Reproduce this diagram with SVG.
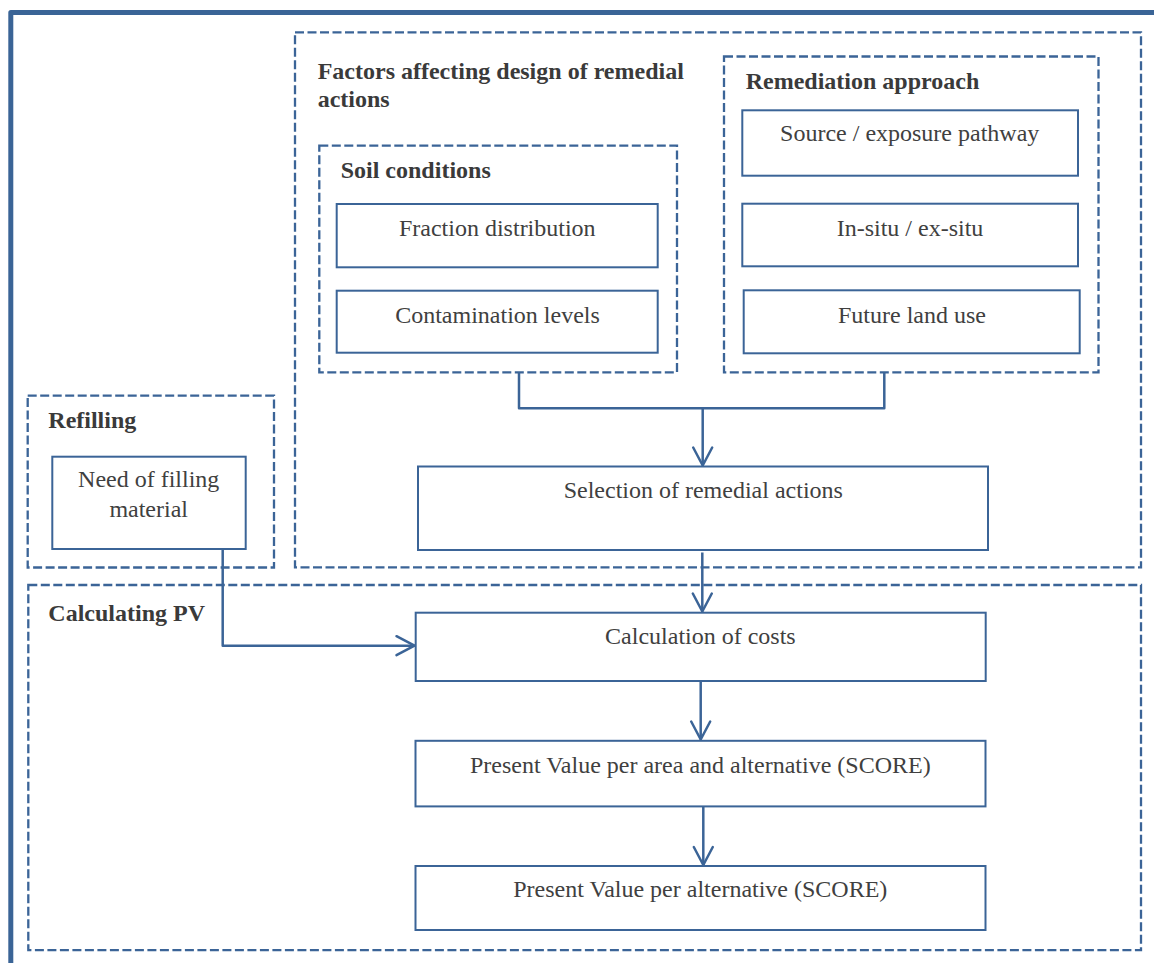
<svg xmlns="http://www.w3.org/2000/svg" width="1154" height="963" viewBox="0 0 1154 963">
  <style>
    .frame { fill: none; stroke: #3a6496; stroke-width: 5; stroke-linejoin: round; }
    .group { fill: none; stroke: #3b6497; stroke-width: 2.3; stroke-dasharray: 9 3.5; }
    .box { fill: #ffffff; stroke: #3b6497; stroke-width: 2; }
    .conn { fill: none; stroke: #3b6497; stroke-width: 2.5; stroke-linejoin: round; }
    .label { font-family: "Liberation Serif", "Times New Roman", serif; font-size: 24px; fill: #404040; text-anchor: middle; }
    .head { font-family: "Liberation Serif", "Times New Roman", serif; font-size: 24px; font-weight: bold; fill: #3a3a3a; }
  </style>
  <defs>
    <marker id="chevron" markerUnits="userSpaceOnUse" viewBox="-21 -12 24 24" markerWidth="24" markerHeight="24" refX="0" refY="0" orient="auto">
      <path d="M-18,-9.5 L0,0 L-18,9.5" fill="none" stroke="#3b6497" stroke-width="2.5" stroke-linejoin="round" stroke-linecap="round"/>
    </marker>
  </defs>

  <rect width="1154" height="963" fill="#ffffff"/>

  <!-- outer frame (top and left edges) -->
  <path class="frame" d="M10.8,963 V12.5 H1160"/>

  <!-- grouping frames -->
  <g id="factors">
    <rect class="group" x="295" y="32.3" width="846" height="535"/>
    <text class="head" x="317.7" y="79.3">Factors affecting design of remedial</text>
    <text class="head" x="317.7" y="106.7">actions</text>
  </g>
  <g id="soil-conditions">
    <rect class="group" x="319.3" y="145.7" width="357.7" height="226.6"/>
    <text class="head" x="340.7" y="178">Soil conditions</text>
  </g>
  <g id="remediation-approach">
    <rect class="group" x="724" y="56.5" width="374.5" height="315.8"/>
    <text class="head" x="745.7" y="89.3">Remediation approach</text>
  </g>
  <g id="refilling">
    <rect class="group" x="27.7" y="395.7" width="246.3" height="171.8"/>
    <text class="head" x="48.3" y="428.3">Refilling</text>
  </g>
  <g id="calculating-pv">
    <rect class="group" x="28.3" y="585" width="1112.7" height="365.2"/>
    <text class="head" x="48.3" y="621">Calculating PV</text>
  </g>

  <!-- connectors -->
  <g id="connectors">
    <path class="conn" d="M519,372.3 V408.3 H884.3 V372.3"/>
    <path class="conn" d="M702.7,408.3 V465.5" marker-end="url(#chevron)"/>
    <path class="conn" d="M702.3,552.5 V611.5" marker-end="url(#chevron)"/>
    <path class="conn" d="M222.7,549 V645.7 H414.5" marker-end="url(#chevron)"/>
    <path class="conn" d="M700.7,681.7 V739.5" marker-end="url(#chevron)"/>
    <path class="conn" d="M703.3,806.7 V865" marker-end="url(#chevron)"/>
  </g>

  <!-- process boxes -->
  <g id="fraction-distribution">
    <rect class="box" x="336.7" y="204" width="321" height="63.3"/>
    <text class="label" x="497.3" y="236">Fraction distribution</text>
  </g>
  <g id="contamination-levels">
    <rect class="box" x="336.7" y="290.7" width="321" height="62"/>
    <text class="label" x="497.5" y="322.7">Contamination levels</text>
  </g>
  <g id="source-exposure">
    <rect class="box" x="742.3" y="110.3" width="335.7" height="65.4"/>
    <text class="label" x="909.7" y="141">Source / exposure pathway</text>
  </g>
  <g id="in-situ-ex-situ">
    <rect class="box" x="742.3" y="203.7" width="335.7" height="62.6"/>
    <text class="label" x="910" y="235.7">In-situ / ex-situ</text>
  </g>
  <g id="future-land-use">
    <rect class="box" x="743.7" y="290.3" width="336" height="63"/>
    <text class="label" x="912" y="322.7">Future land use</text>
  </g>
  <g id="selection">
    <rect class="box" x="418" y="466.5" width="570" height="83.5"/>
    <text class="label" x="703.3" y="498.3">Selection of remedial actions</text>
  </g>
  <g id="filling-material">
    <rect class="box" x="52.3" y="456.7" width="193.4" height="92.3"/>
    <text class="label" x="148.7" y="487.3">Need of filling</text>
    <text class="label" x="148.7" y="516.7">material</text>
  </g>
  <g id="calculation-of-costs">
    <rect class="box" x="415.7" y="612.7" width="570" height="68.3"/>
    <text class="label" x="700.4" y="644.3">Calculation of costs</text>
  </g>
  <g id="pv-area-alternative">
    <rect class="box" x="415.5" y="740.8" width="570" height="65.6"/>
    <text class="label" x="700.3" y="773.3">Present Value per area and alternative (SCORE)</text>
  </g>
  <g id="pv-alternative">
    <rect class="box" x="415.5" y="866" width="570" height="64"/>
    <text class="label" x="700.3" y="896.7">Present Value per alternative (SCORE)</text>
  </g>
</svg>
